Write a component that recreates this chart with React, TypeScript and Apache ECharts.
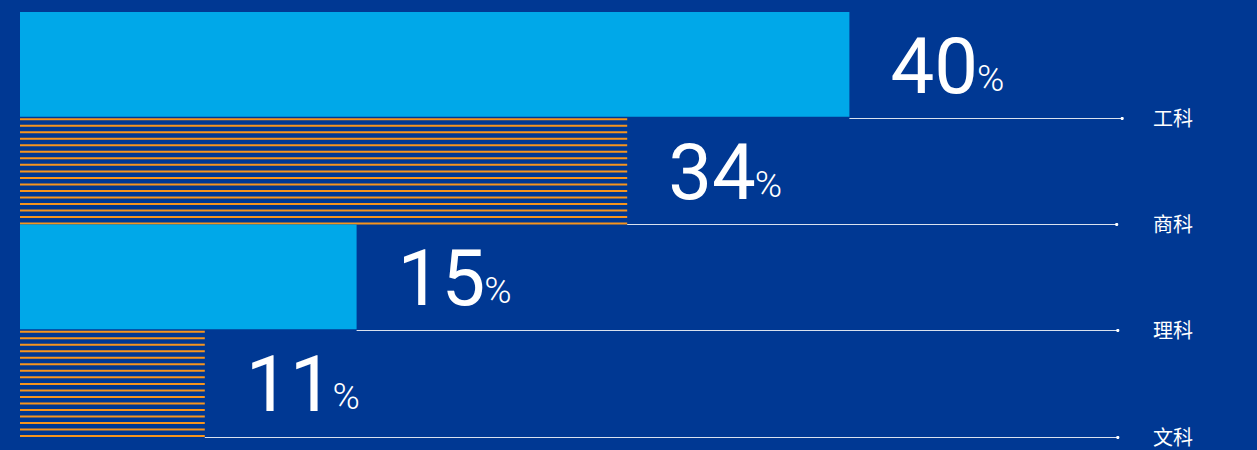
import React, { useEffect, useRef } from "react";
import * as echarts from "echarts";

// Categories (top to bottom)
const categories = ["工科", "商科", "理科", "文科"];
// Percentages shown as labels
const percents = [40, 34, 15, 11];
// Bar lengths on a 0–100 track
const barLengths = [75.4, 55.2, 30.6, 16.8];
// Where each guide line ends on the same track
const lineEnds = [100.2, 99.7, 99.8, 99.8];

const BG = "#003893";
const CYAN = "#00A8E9";
const ORANGE = "#F7941D";

const measureCanvas = document.createElement("canvas");
function textWidth(text: string, font: string) {
  const ctx = measureCanvas.getContext("2d")!;
  ctx.font = font;
  return ctx.measureText(text).width;
}

export default function App() {
  const ref = useRef<HTMLDivElement>(null);

  useEffect(() => {
    document.body.style.margin = "0";
    const chart = echarts.init(ref.current!, null, { renderer: "svg" });
    const data = categories.map((c, i) => [barLengths[i], i, lineEnds[i], percents[i]]);

    chart.setOption({
      animation: false,
      backgroundColor: BG,
      grid: { left: 20, right: 137, top: 12, bottom: 13 },
      xAxis: { type: "value", min: 0, max: 100, show: false },
      yAxis: { type: "category", data: categories, inverse: true, show: false },
      series: [
        {
          type: "custom",
          data,
          renderItem: (params: any, api: any) => {
            const v = api.value(0);
            const ci = api.value(1);
            const le = api.value(2);
            const pct = String(api.value(3));
            const start = api.coord([0, ci]);
            const end = api.coord([v, ci]);
            const bandH = api.size([0, 1])[1];
            const top = start[1] - bandH / 2;
            const bottom = top + bandH;
            const w = end[0] - start[0];
            const children: any[] = [];
            if (ci % 2 === 0) {
              children.push({
                type: "rect",
                shape: { x: start[0], y: top, width: w, height: bandH - 1.5 },
                style: { fill: CYAN },
              });
            } else {
              const n = 17;
              const step = (bandH - 2) / (n - 1);
              for (let k = 0; k < n; k++) {
                children.push({
                  type: "rect",
                  shape: { x: start[0], y: top + k * step, width: w, height: 2 },
                  style: { fill: ORANGE },
                });
              }
            }
            const lineEnd = api.coord([le, ci]);
            const ly = Math.floor(bottom) + 0.5;
            children.push({
              type: "line",
              shape: { x1: end[0], y1: ly, x2: lineEnd[0], y2: ly },
              style: { stroke: "rgba(255,255,255,0.85)", lineWidth: 1 },
            });
            children.push({
              type: "circle",
              shape: { cx: lineEnd[0], cy: ly, r: 1.6 },
              style: { fill: "#ffffff" },
            });
            // category name
            const labelX = api.coord([100, ci])[0] + 33;
            children.push({
              type: "text",
              x: labelX,
              y: ly - 1.5,
              style: {
                text: categories[ci],
                fontSize: 20,
                fontFamily: "Noto Sans CJK SC",
                fill: "#ffffff",
                align: "left",
                verticalAlign: "middle",
              },
            });
            // big number + percent sign
            const nx = end[0] + 41;
            const ny = start[1] + 1;
            const nw = textWidth(pct, "78px Roboto");
            children.push({
              type: "text",
              x: nx,
              y: ny,
              style: {
                text: pct,
                fontSize: 78,
                fontFamily: "Roboto",
                fill: "#ffffff",
                align: "left",
                verticalAlign: "middle",
              },
            });
            children.push({
              type: "text",
              x: nx + nw - 1,
              y: ny + 12,
              style: {
                text: "%",
                fontSize: 37,
                fontWeight: 300,
                fontFamily: "Roboto",
                fill: "#ffffff",
                align: "left",
                verticalAlign: "middle",
              },
            });
            return { type: "group", children };
          },
        },
      ],
    });
    return () => chart.dispose();
  }, []);

  return <div ref={ref} style={{ width: 1257, height: 450 }} />;
}
